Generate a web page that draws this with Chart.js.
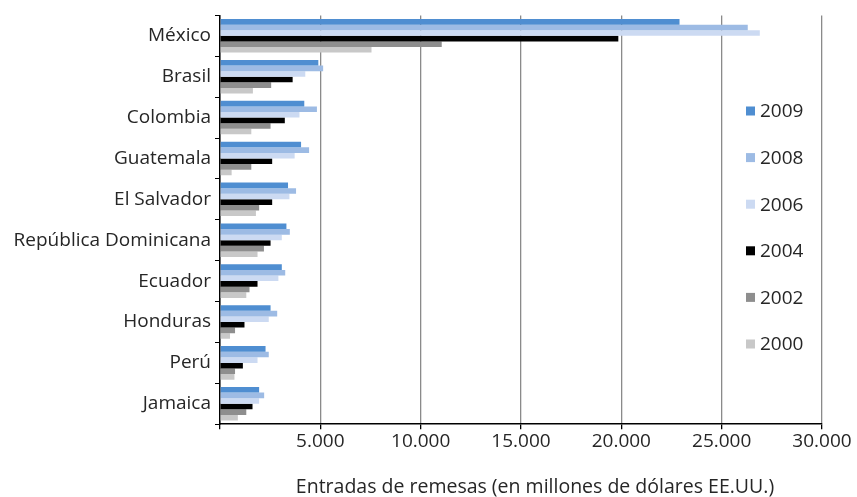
<!DOCTYPE html>
<html>
<head>
<meta charset="utf-8">
<script src="https://cdn.jsdelivr.net/npm/chart.js@4"></script>
<style>
html,body{margin:0;padding:0;background:#fff;}
#wrap{width:857px;height:497px;position:relative;}
</style>
</head>
<body>
<div id="wrap"><canvas id="c" width="857" height="497"></canvas></div>
<script>
const categories = ["México","Brasil","Colombia","Guatemala","El Salvador","República Dominicana","Ecuador","Honduras","Perú","Jamaica"];
const seriesNames = ["2009","2008","2006","2004","2002","2000"];
const v2009 = [22900, 4900, 4200, 4040, 3390, 3310, 3080, 2520, 2270, 1950];
const v2008 = [26300, 5140, 4830, 4440, 3790, 3480, 3250, 2850, 2430, 2200];
const v2006 = [26900, 4250, 3960, 3720, 3460, 3080, 2910, 2430, 1870, 1950];
const v2004 = [19850, 3620, 3230, 2600, 2600, 2520, 1870, 1220, 1140, 1620];
const v2002 = [11050, 2550, 2520, 1560, 1950, 2190, 1470, 750, 750, 1310];
const v2000 = [7550, 1640, 1560, 580, 1790, 1870, 1310, 500, 720, 890];
const colors = ["#4F8ED1","#9DBBE4","#CCDAF2","#000000","#8E8E8E","#C8C8C8"];
const xTickValues = [0,5000,10000,15000,20000,25000,30000];
const xTickLabels = ["","5.000","10.000","15.000","20.000","25.000","30.000"];
const xTitle = "Entradas de remesas (en millones de dólares EE.UU.)";

const values = [v2009,v2008,v2006,v2004,v2002,v2000];
const FONT = "'Open Sans', sans-serif";
const TXT = "#262626";

const textPlugin = {
  id: 'sideLegend',
  afterDraw(chart) {
    const ctx = chart.ctx;
    const x0 = 746, y0 = 111, step = 46.6;
    ctx.save();
    ctx.font = "19px " + FONT;
    ctx.textBaseline = "middle";
    ctx.textAlign = "left";
    seriesNames.forEach((n, i) => {
      const y = y0 + i * step;
      ctx.fillStyle = colors[i];
      ctx.fillRect(x0, y - 4.5, 9, 9);
      ctx.fillStyle = TXT;
      ctx.fillText(n, x0 + 14, y + 1);
    });
    ctx.textAlign = "center";
    ctx.font = "19.5px " + FONT;
    ctx.fillText(xTitle, 535, 487);
    ctx.restore();
  }
};

new Chart(document.getElementById('c'), {
  type: 'bar',
  data: {
    labels: categories,
    datasets: seriesNames.map((n, i) => ({
      label: n,
      data: values[i],
      backgroundColor: colors[i],
      borderWidth: 0,
      categoryPercentage: 0.82,
      barPercentage: 1.0
    }))
  },
  options: {
    indexAxis: 'y',
    responsive: false,
    animation: false,
    devicePixelRatio: 1,
    layout: { padding: { top: 15, right: 35, bottom: 43, left: 0 } },
    plugins: { legend: { display: false }, tooltip: { enabled: false } },
    scales: {
      x: {
        min: 0, max: 30000,
        afterBuildTicks(axis) { axis.ticks = xTickValues.map(v => ({ value: v })); },
        ticks: {
          callback(v) { const i = xTickValues.indexOf(v); return i >= 0 ? xTickLabels[i] : ''; },
          color: TXT, font: { family: FONT, size: 19 }, padding: 1, maxRotation: 0
        },
        grid: { color: "#8a8a8a", lineWidth: 1.3, tickColor: "#000", tickLength: 5 },
        border: { color: "#000", width: 1.5 }
      },
      y: {
        afterFit(axis) { axis.width = 220; },
        ticks: { color: TXT, font: { family: FONT, size: 19 }, padding: 4 },
        grid: { display: true, drawOnChartArea: false, offset: true, tickColor: "#000", tickLength: 5 },
        border: { color: "#000", width: 1.5 }
      }
    }
  },
  plugins: [textPlugin]
});
</script>
</body>
</html>
